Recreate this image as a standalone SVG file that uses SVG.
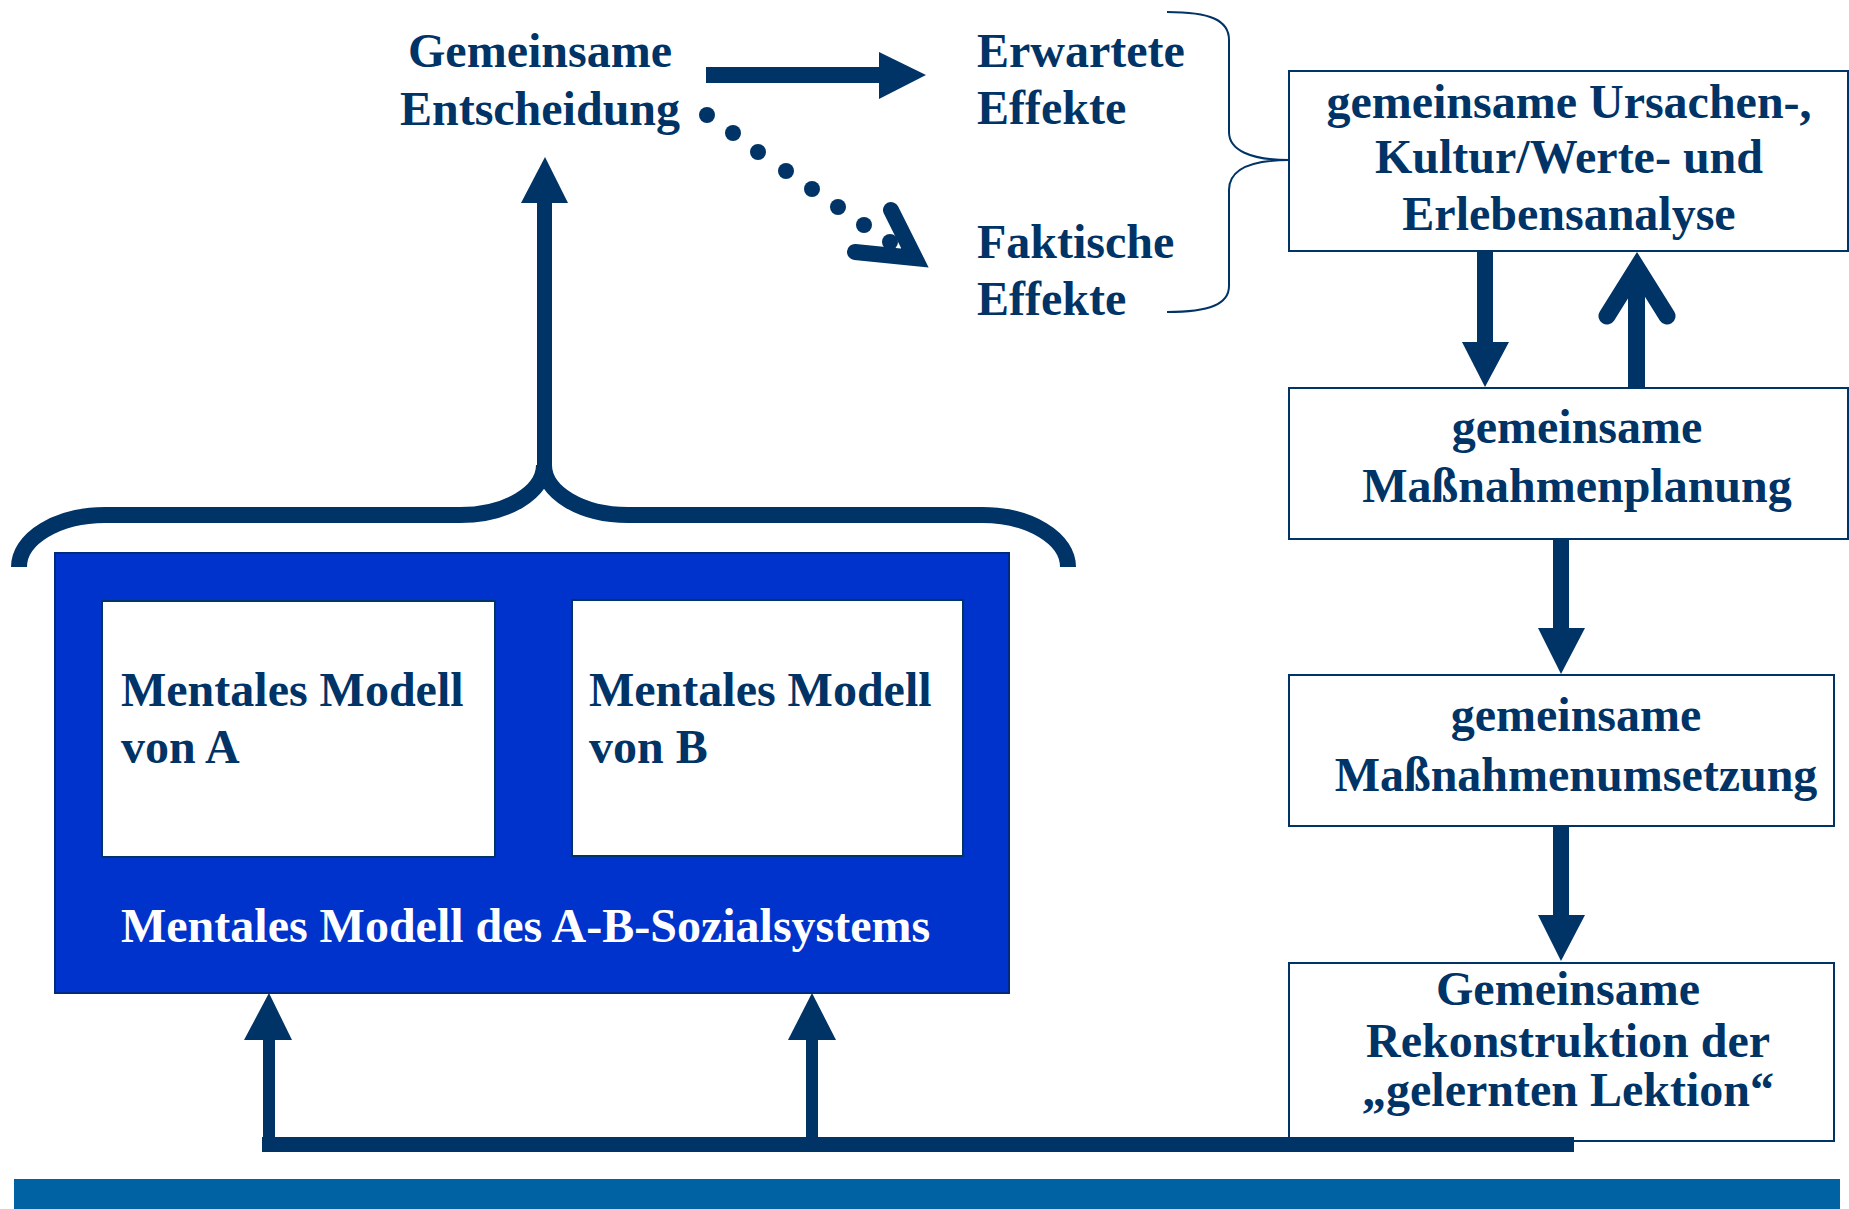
<svg xmlns="http://www.w3.org/2000/svg" width="1849" height="1209" viewBox="0 0 1849 1209">
  <style>
    .t { font-family: "Liberation Serif", "Times New Roman", serif; font-weight: bold; font-size: 48px; fill: #003366; }
    .w { fill: #ffffff; }
    .c { text-anchor: middle; }
    .box { fill: #ffffff; stroke: #003366; stroke-width: 2; }
    .ink { fill: #003366; }
    .line { fill: none; stroke: #003366; }
  </style>
  <rect width="1849" height="1209" fill="#ffffff"/>

  <!-- decision and effects -->
  <g id="decision">
    <text class="t c" x="540" y="67">Gemeinsame</text>
    <text class="t c" x="540" y="125">Entscheidung</text>
  </g>
  <g id="expected">
    <text class="t" x="977" y="67">Erwartete</text>
    <text class="t" x="977" y="124">Effekte</text>
  </g>
  <g id="actual">
    <text class="t" x="977" y="258">Faktische</text>
    <text class="t" x="977" y="315">Effekte</text>
  </g>

  <!-- right-hand process chain -->
  <g id="analysis">
    <rect class="box" x="1289" y="71" width="559" height="180"/>
    <text class="t c" x="1569" y="118">gemeinsame Ursachen-,</text>
    <text class="t c" x="1569" y="173">Kultur/Werte- und</text>
    <text class="t c" x="1569" y="230">Erlebensanalyse</text>
  </g>
  <g id="planning">
    <rect class="box" x="1289" y="388" width="559" height="151"/>
    <text class="t c" x="1577" y="443">gemeinsame</text>
    <text class="t c" x="1577" y="502">Maßnahmenplanung</text>
  </g>
  <g id="implementation">
    <rect class="box" x="1289" y="675" width="545" height="151"/>
    <text class="t c" x="1576" y="731">gemeinsame</text>
    <text class="t c" x="1576" y="791">Maßnahmenumsetzung</text>
  </g>
  <g id="lesson">
    <rect class="box" x="1289" y="963" width="545" height="178"/>
    <text class="t c" x="1568" y="1005">Gemeinsame</text>
    <text class="t c" x="1568" y="1057">Rekonstruktion der</text>
    <text class="t c" x="1568" y="1106">„gelernten Lektion“</text>
  </g>

  <!-- mental model of the A-B social system -->
  <g id="system">
    <rect x="55" y="553" width="954" height="440" fill="#0033CC" stroke="#002a80" stroke-width="2"/>
    <text class="t w" x="121" y="942">Mentales Modell des A-B-Sozialsystems</text>
  </g>
  <g id="modelA">
    <rect class="box" x="102" y="601" width="393" height="256"/>
    <text class="t" x="121" y="706">Mentales Modell</text>
    <text class="t" x="121" y="763">von A</text>
  </g>
  <g id="modelB">
    <rect class="box" x="572" y="600" width="391" height="256"/>
    <text class="t" x="589" y="706">Mentales Modell</text>
    <text class="t" x="589" y="763">von B</text>
  </g>

  <g id="connectors">
    <!-- decision to expected effects -->
    <rect class="ink" x="706" y="67" width="175" height="16"/>
    <polygon class="ink" points="879,52 926,75 879,99"/>

    <!-- decision to actual effects (dotted) -->
    <g class="ink">
      <circle cx="707" cy="115" r="8"/>
      <circle cx="733" cy="133" r="8"/>
      <circle cx="758" cy="152" r="8"/>
      <circle cx="786" cy="171" r="8"/>
      <circle cx="812" cy="189" r="8"/>
      <circle cx="838" cy="207" r="8"/>
      <circle cx="864" cy="225" r="8"/>
      <circle cx="890" cy="242" r="8"/>
    </g>
    <path d="M891,210 L915,258 L855,252" fill="none" stroke="#003366" stroke-width="16" stroke-linecap="round" stroke-linejoin="miter" stroke-miterlimit="10"/>

    <!-- brace joining both effects to the analysis box -->
    <path class="line" stroke-width="2" d="M1167,12 C1210,12 1229,20 1229,40 L1229,132 C1229,150 1250,160 1289,160 C1250,160 1229,170 1229,190 L1229,286 C1229,304 1210,312 1167,312"/>

    <!-- analysis <-> planning -->
    <rect class="ink" x="1477" y="251" width="16" height="92"/>
    <polygon class="ink" points="1462,342 1509,342 1485,387"/>
    <rect class="ink" x="1628" y="272" width="17" height="116"/>
    <path d="M1607,316 L1637,268 L1667,316" fill="none" stroke="#003366" stroke-width="17" stroke-linecap="round" stroke-linejoin="miter" stroke-miterlimit="10"/>

    <!-- planning to implementation -->
    <rect class="ink" x="1553" y="539" width="16" height="90"/>
    <polygon class="ink" points="1538,628 1585,628 1561,674"/>

    <!-- implementation to lesson -->
    <rect class="ink" x="1553" y="826" width="16" height="90"/>
    <polygon class="ink" points="1538,915 1585,915 1561,961"/>

    <!-- feedback from lesson to both mental models -->
    <rect class="ink" x="262" y="1137" width="1312" height="15"/>
    <rect class="ink" x="263" y="1036" width="12" height="110"/>
    <polygon class="ink" points="244,1040 269,993 292,1040"/>
    <rect class="ink" x="806" y="1036" width="12" height="104"/>
    <polygon class="ink" points="788,1040 812,993 836,1040"/>

    <!-- brace over the system leading to the decision -->
    <path class="line" stroke-width="16" d="M19,567 A86,52 0 0 1 105,515 L460,515 A84,50 0 0 0 544,465 A84,50 0 0 0 628,515 L982,515 A86,52 0 0 1 1068,567"/>
    <rect class="ink" x="537" y="200" width="15" height="272"/>
    <polygon class="ink" points="521,203 545,157 568,203"/>
  </g>

  <!-- footer bar -->
  <rect x="14" y="1179" width="1826" height="30" fill="#0061A3"/>
</svg>
